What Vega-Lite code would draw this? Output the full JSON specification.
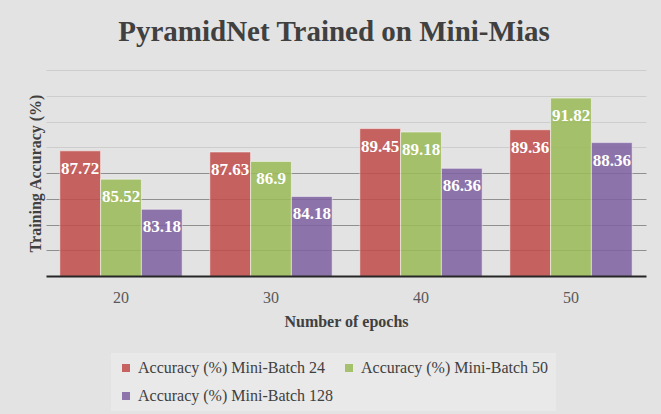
{
  "$schema": "https://vega.github.io/schema/vega-lite/v6.json",
  "width": 600,
  "height": 206,
  "autosize": {"type": "none"},
  "padding": {"left": 46, "top": 70, "right": 15, "bottom": 138},
  "background": "#e3e3e3",
  "config": {"view": {"stroke": null}},
  "title": {
    "text": "PyramidNet Trained on Mini-Mias",
    "font": "Liberation Serif",
    "fontSize": 29,
    "fontWeight": "bold",
    "color": "#404040",
    "anchor": "middle",
    "baseline": "alphabetic",
    "offset": 0,
    "dx": -12
  },
  "data": {
    "values": [
      {"epoch": "20", "series": "Accuracy (%) Mini-Batch 24", "value": 87.72},
      {"epoch": "20", "series": "Accuracy (%) Mini-Batch 50", "value": 85.52},
      {"epoch": "20", "series": "Accuracy (%) Mini-Batch 128", "value": 83.18},
      {"epoch": "30", "series": "Accuracy (%) Mini-Batch 24", "value": 87.63},
      {"epoch": "30", "series": "Accuracy (%) Mini-Batch 50", "value": 86.9},
      {"epoch": "30", "series": "Accuracy (%) Mini-Batch 128", "value": 84.18},
      {"epoch": "40", "series": "Accuracy (%) Mini-Batch 24", "value": 89.45},
      {"epoch": "40", "series": "Accuracy (%) Mini-Batch 50", "value": 89.18},
      {"epoch": "40", "series": "Accuracy (%) Mini-Batch 128", "value": 86.36},
      {"epoch": "50", "series": "Accuracy (%) Mini-Batch 24", "value": 89.36},
      {"epoch": "50", "series": "Accuracy (%) Mini-Batch 50", "value": 91.82},
      {"epoch": "50", "series": "Accuracy (%) Mini-Batch 128", "value": 88.36}
    ]
  },
  "encoding": {
    "x": {
      "field": "epoch",
      "type": "nominal",
      "sort": ["20", "30", "40", "50"],
      "scale": {"paddingInner": 0.184, "paddingOuter": 0.092},
      "axis": {
        "title": "Number of epochs",
        "labelAngle": 0,
        "labelFont": "Liberation Serif",
        "labelFontSize": 16,
        "labelColor": "#595959",
        "labelPadding": 13,
        "ticks": false,
        "tickSize": 0,
        "domain": true,
        "domainColor": "#262626",
        "domainWidth": 2,
        "grid": false,
        "zindex": 1,
        "titleFont": "Liberation Serif",
        "titleFontSize": 16,
        "titleFontWeight": "bold",
        "titleColor": "#404040",
        "titlePadding": 8
      }
    },
    "xOffset": {
      "field": "series",
      "type": "nominal",
      "sort": ["Accuracy (%) Mini-Batch 24", "Accuracy (%) Mini-Batch 50", "Accuracy (%) Mini-Batch 128"],
      "scale": {"paddingInner": 0, "paddingOuter": 0}
    },
    "y": {
      "field": "value",
      "type": "quantitative",
      "scale": {"domain": [78, 94], "nice": false, "zero": false},
      "axis": {
        "title": "Training Accuracy (%)",
        "titleFont": "Liberation Serif",
        "titleFontSize": 16,
        "titleFontWeight": "bold",
        "titleColor": "#404040",
        "titlePadding": 3,
        "labels": false,
        "ticks": false,
        "domain": false,
        "values": [80, 82, 84, 86, 88, 90, 92, 94],
        "grid": true,
        "gridColor": {"condition": {"test": "datum.value <= 87", "value": "#8f8f8f"}, "value": "#cdcdcd"},
        "gridWidth": 1.2
      }
    }
  },
  "layer": [
    {
      "mark": {"type": "bar", "stroke": "#ffffff", "strokeOpacity": 0.5, "strokeWidth": 1, "fillOpacity": 0.88, "clip": true},
      "encoding": {
        "color": {
          "field": "series",
          "type": "nominal",
          "sort": ["Accuracy (%) Mini-Batch 24", "Accuracy (%) Mini-Batch 50", "Accuracy (%) Mini-Batch 128"],
          "scale": {
            "domain": ["Accuracy (%) Mini-Batch 24", "Accuracy (%) Mini-Batch 50", "Accuracy (%) Mini-Batch 128"],
            "range": ["#c0504d", "#9bbb59", "#8064a2"]
          },
          "legend": {
            "title": null,
            "orient": "none",
            "legendX": 65,
            "legendY": 283,
            "direction": "horizontal",
            "columns": 2,
            "symbolType": "square",
            "symbolSize": 64,
            "symbolOpacity": 0.88,
            "symbolStrokeWidth": 0,
            "labelFont": "Liberation Serif",
            "labelFontSize": 16,
            "labelColor": "#404040",
            "labelLimit": 300,
            "labelOffset": 4,
            "fillColor": "#e9e9e9",
            "padding": 7,
            "columnPadding": 7,
            "rowPadding": 12
          }
        }
      }
    },
    {
      "mark": {"type": "text", "dy": 18, "font": "Liberation Serif", "fontSize": 17, "fontWeight": "bold", "color": "#ffffff", "baseline": "middle"},
      "encoding": {
        "text": {"field": "value", "type": "nominal"}
      }
    }
  ]
}
